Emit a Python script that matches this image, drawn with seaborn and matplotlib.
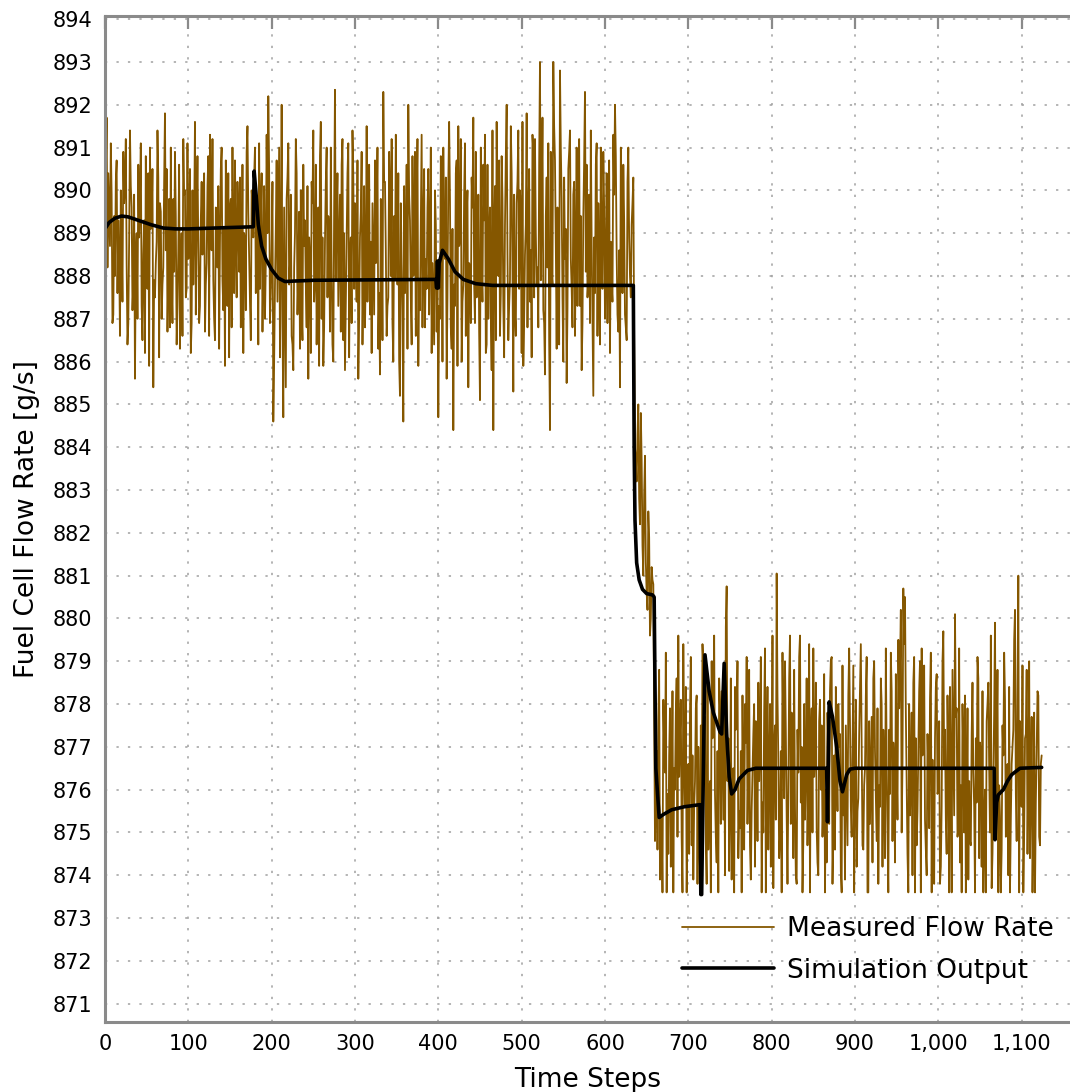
import numpy as np
import pandas as pd
import matplotlib
matplotlib.use('Agg')
import matplotlib.pyplot as plt
import seaborn as sns
from matplotlib.ticker import FuncFormatter, MultipleLocator

# Measured flow rate: even time steps (0, 2, 4, ...)
meas_even_before = [
    889.2, 891.7, 890.4, 888.7, 889.9, 887.1, 888.0, 890.7, 889.3, 886.6, 888.9, 890.9, 890.1, 888.3, 886.9, 891.4, 889.6, 887.8, 885.6, 889.0,
    890.6, 889.8, 887.3, 888.5, 886.2, 887.9, 890.4, 891.0, 889.2, 885.4, 887.5, 888.8, 890.3, 889.7, 887.0, 888.2, 891.8, 890.5, 888.1, 886.8,
    887.9, 889.8, 890.9, 886.4, 888.6, 886.3, 889.0, 891.2, 890.0, 887.7, 888.4, 890.5, 886.9, 887.8, 891.6, 889.4, 888.7, 887.3, 890.2, 889.1,
    886.7, 888.3, 890.8, 891.3, 888.6, 887.9, 886.5, 889.4, 890.1, 888.8, 891.0, 887.2, 885.9, 888.5, 890.4, 889.6, 886.8, 888.0, 890.7, 887.5,
    889.3, 890.3, 887.9, 886.2, 888.8, 890.9, 889.5, 887.4, 890.0, 888.9, 891.0, 889.6, 886.4, 887.7, 890.4, 888.2, 887.0, 891.3, 892.2, 886.9,
    888.6, 884.6, 887.8, 890.7, 889.2, 886.1, 892.0, 884.7, 887.5, 889.8, 891.1, 888.3, 886.6, 885.8, 889.0, 890.4, 888.0, 886.3, 887.2, 890.6,
    889.3, 886.8, 885.6, 888.4, 890.2, 891.4, 887.9, 886.4, 889.6, 890.8, 887.0, 885.9, 888.8, 891.0, 889.4, 886.7, 888.1, 886.0, 892.35, 889.5,
    887.3, 889.9, 890.6, 886.5, 885.8, 888.7, 891.1, 888.5, 886.9, 890.3, 889.7, 887.4, 885.6, 888.9, 890.9, 888.0, 886.8, 891.5, 889.3, 887.1,
    886.2, 888.4, 890.7, 889.5, 886.3, 885.7, 888.8, 892.3, 890.2, 886.6, 887.5, 889.9, 891.2, 886.0, 887.9, 889.0, 890.4, 885.2, 888.3, 884.6,
    887.6, 890.6, 892.0, 889.3, 886.4, 888.0, 890.9, 889.7, 885.9, 887.2, 891.3, 889.1, 886.8, 887.7, 890.5, 888.9, 886.2, 887.4, 890.0, 886.7,
    884.7, 887.0, 889.5, 891.0, 888.4, 885.6, 890.2, 889.8, 886.3, 884.4, 887.3, 890.7, 891.5, 888.9, 886.0, 887.8, 891.1, 889.4, 885.4, 888.1,
    890.3, 891.7, 886.9, 887.5, 889.9, 885.1, 888.2, 890.6, 891.3, 886.4, 887.0, 889.6, 885.8, 884.4, 890.1, 891.6, 888.0, 886.6, 890.8, 887.3,
    889.2, 892.0, 886.5, 887.9, 890.4, 885.3, 887.1, 889.7, 891.4, 890.0, 886.2, 885.9, 888.5, 891.8, 889.3, 887.4, 886.1, 890.9, 891.2, 887.8,
    886.8, 893.0, 889.6, 887.2, 885.7, 890.3, 891.1, 884.4, 888.1, 893.0, 890.7, 886.3, 887.5, 892.8, 889.8, 886.0, 888.4, 885.5, 890.5, 891.4,
    887.7, 889.9, 886.6, 891.0, 890.2, 887.3, 885.8, 889.4, 892.3, 890.6, 887.9, 886.9, 888.8, 885.2, 887.6, 891.1, 889.7, 886.4, 888.2, 890.9,
    887.0, 890.4, 889.5, 886.2, 887.8, 891.3, 892.0, 888.5, 886.7, 885.4, 889.8, 890.6, 887.1, 886.5, 891.0, 888.0, 889.2, 890.3,
]
meas_even_transition = [884.0, 883.2, 885.0, 882.2, 883.7, 881.0, 883.8, 880.6, 882.5, 879.6, 881.2, 880.8]
meas_even_after = [
    874.8, 876.9, 877.6, 873.9, 875.2, 878.1, 876.4, 873.6, 874.5, 877.9, 875.8, 873.6, 876.0, 878.6, 879.6, 877.3, 874.9, 879.4, 875.6, 873.6,
    876.6, 877.8, 874.7, 873.9, 876.2, 878.2, 877.0, 874.1, 875.4, 878.9, 877.7, 873.8, 874.6, 876.2, 879.0, 877.4, 875.9, 874.3, 873.6, 877.9,
    878.3, 875.3, 874.0, 880.75, 877.2, 875.7, 873.9, 876.5, 878.4, 877.6, 874.4, 875.1, 873.6, 876.1, 878.0, 879.1, 876.7, 874.7, 875.5, 877.3,
    874.2, 876.9, 878.5, 877.1, 873.6, 875.0, 879.3, 876.3, 874.6, 878.0, 875.8, 873.7, 877.5, 881.05, 876.7, 874.9, 873.6, 877.2, 879.0, 875.4,
    876.0, 879.6, 877.8, 874.4, 875.6, 873.8, 876.4, 879.6, 877.0, 874.8, 875.3, 878.6, 876.2, 873.6, 877.9, 879.3, 876.8, 875.1, 874.0, 878.1,
    877.5, 875.7, 873.6, 874.3, 876.9, 878.3, 879.1, 875.0, 874.6, 876.6, 878.0, 877.3, 873.6, 875.4, 873.9, 876.1, 878.2, 877.6, 874.9, 878.9,
    876.3, 874.2, 875.8, 878.4, 877.0, 874.6, 876.5, 879.1, 873.6, 875.2, 877.7, 878.6, 876.9, 874.8, 873.8, 875.6, 878.0, 877.4, 874.4, 876.7,
    873.6, 875.9, 878.3, 877.1, 874.3, 876.6, 879.5, 878.8, 875.0, 880.7, 880.5, 876.2, 873.6, 875.4, 877.8, 878.5, 873.6, 874.7, 876.9, 879.0,
    879.3, 877.6, 875.3, 874.0, 876.4, 878.1, 873.6, 875.0, 877.2, 878.7, 876.0, 873.8, 875.6, 879.7, 877.4, 874.5, 876.8, 878.4, 873.6, 877.0,
    880.1, 877.9, 875.1, 874.3, 873.6, 876.7, 878.2, 875.5, 873.9, 874.8, 877.3, 876.4, 873.6, 875.7, 878.6, 877.1, 874.2, 873.6, 876.0, 877.6,
    878.5, 875.0, 873.7, 876.3, 879.9, 877.0, 873.6, 875.4, 874.6, 876.8, 878.1, 875.2, 874.0, 873.6, 876.6, 877.4, 880.2, 874.8, 881.0, 877.6,
    875.6, 873.6, 877.2, 878.8, 876.5, 874.4, 877.7, 875.1, 873.6, 876.9, 878.2, 874.7, 876.8,
]

# Measured flow rate: odd time steps (1, 3, 5, ...)
meas_odd_before = [
    890.3, 888.2, 889.5, 891.1, 886.9, 889.4, 890.2, 887.6, 888.5, 890.0, 887.4, 889.7, 891.2, 886.4, 888.8, 890.1, 887.2, 889.9, 888.4, 887.0,
    888.9, 891.1, 886.5, 889.3, 890.8, 887.7, 885.9, 889.1, 890.5, 887.9, 888.3, 891.4, 886.1, 889.5, 887.8, 890.2, 888.6, 886.7, 889.8, 891.0,
    886.9, 888.1, 889.4, 887.3, 890.6, 888.0, 886.6, 889.9, 887.5, 891.1, 888.7, 886.2, 890.0, 889.2, 887.1, 890.8, 886.9, 889.3, 888.5, 890.4,
    887.8, 890.1, 886.6, 888.9, 891.2, 887.0, 889.6, 888.2, 886.3, 890.5, 887.9, 889.1, 890.7, 887.3, 886.1, 889.8, 891.0, 887.6, 888.8, 890.2,
    888.1, 886.8, 890.6, 889.0, 887.2, 891.5, 888.4, 886.5, 889.7, 890.3, 887.6, 888.9, 891.1, 889.4, 886.7, 890.1, 888.3, 889.0, 890.5, 887.6,
    890.2, 886.0, 889.1, 887.4, 891.0, 888.5, 886.9, 889.6, 885.4, 890.3, 887.8, 889.9, 886.4, 888.2, 891.2, 887.1, 889.5, 890.0, 886.5, 888.7,
    887.8, 890.1, 888.9, 886.2, 889.7, 887.4, 890.6, 888.3, 885.9, 891.6, 888.9, 886.8, 890.2, 887.5, 889.1, 891.0, 886.4, 889.6, 887.9, 890.4,
    888.6, 886.7, 891.2, 889.0, 887.3, 890.4, 886.1, 888.9, 891.4, 887.7, 888.3, 890.7, 887.0, 889.5, 886.4, 890.1, 888.1, 887.4, 890.6, 888.8,
    889.7, 887.1, 888.3, 891.0, 887.6, 889.8, 886.5, 890.2, 888.6, 887.3, 890.9, 888.0, 886.9, 889.4, 891.3, 887.8, 886.0, 889.7, 887.2, 890.1,
    888.8, 886.3, 889.9, 887.5, 890.8, 888.1, 886.6, 891.2, 887.9, 889.3, 886.8, 890.5, 888.4, 889.6, 887.1, 891.0, 888.3, 886.4, 889.2, 888.0,
    887.3, 890.8, 886.0, 888.6, 890.3, 887.5, 891.6, 886.8, 889.1, 887.8, 890.4, 885.9, 888.7, 891.2, 887.4, 889.9, 886.6, 890.0, 888.3, 886.9,
    889.6, 887.8, 890.9, 888.2, 886.7, 891.0, 887.4, 889.3, 886.2, 890.6, 888.9, 887.1, 891.4, 889.0, 886.5, 888.4, 890.7, 887.6, 889.8, 886.1,
    890.8, 888.5, 887.3, 891.5, 888.1, 889.9, 886.6, 890.2, 887.7, 889.4, 891.6, 887.0, 889.2, 886.8, 890.5, 888.6, 891.3, 887.5, 889.0, 888.2,
    890.6, 887.9, 891.7, 886.9, 889.4, 888.2, 886.5, 890.9, 887.8, 891.5, 888.7, 889.6, 886.4, 891.0, 887.5, 890.3, 889.1, 887.2, 890.9, 888.4,
    886.8, 890.2, 888.6, 887.3, 891.2, 889.4, 886.9, 890.7, 888.1, 887.5, 889.9, 891.4, 887.0, 888.9, 890.6, 886.6, 888.3, 891.0, 887.7, 889.6,
    888.3, 886.9, 890.7, 888.8, 887.4, 889.9, 890.8, 887.1, 888.6, 891.0, 887.6, 889.3, 886.8, 890.2, 888.9, 887.5, 889.7,
]
meas_odd_transition = [886.5, 883.7, 884.3, 882.8, 884.8, 881.7, 882.9, 881.3, 880.2, 881.9, 880.0, 880.9, 877.8]
meas_odd_after = [
    876.1, 874.6, 878.8, 875.4, 873.6, 877.0, 879.2, 875.9, 876.8, 874.2, 878.3, 876.5, 877.8, 874.9, 876.3, 878.1, 873.6, 876.7, 878.4, 875.3,
    874.5, 879.1, 876.8, 875.6, 877.9, 873.8, 875.1, 877.5, 879.4, 876.3, 874.8, 878.7, 875.9, 873.6, 877.2, 879.6, 874.9, 876.9, 878.6, 875.2,
    876.7, 877.9, 879.8, 876.2, 874.1, 878.6, 875.8, 873.6, 877.4, 879.0, 875.5, 876.9, 878.2, 874.6, 877.1, 875.2, 878.8, 873.9, 876.4, 878.0,
    877.6, 874.8, 876.2, 879.1, 875.7, 877.8, 873.6, 878.4, 876.6, 874.2, 879.6, 877.0, 875.3, 878.2, 874.4, 876.9, 879.2, 875.8, 877.4, 873.8,
    878.6, 875.2, 876.9, 878.8, 874.0, 877.4, 879.1, 875.7, 873.6, 878.0, 876.6, 874.7, 879.4, 877.2, 875.0, 876.3, 878.5, 874.3, 877.6, 876.0,
    874.9, 878.7, 876.0, 877.8, 875.2, 879.0, 873.8, 876.8, 878.4, 875.5, 877.0, 874.1, 878.9, 876.2, 877.5, 874.7, 879.3, 875.6, 876.8, 873.6,
    878.1, 875.5, 877.3, 879.4, 874.7, 876.1, 878.2, 873.6, 877.6, 876.4, 874.3, 879.0, 875.8, 877.9, 876.1, 878.6, 874.2, 876.3, 879.3, 875.0,
    877.4, 879.2, 874.8, 876.5, 878.7, 875.3, 877.9, 880.2, 876.6, 879.4, 877.8, 874.5, 878.0, 876.3, 874.0, 879.1, 877.2, 875.5, 878.3, 873.6,
    876.8, 878.9, 874.6, 877.3, 875.1, 879.2, 876.7, 873.8, 878.4, 875.9, 877.6, 874.2, 879.0, 876.5, 875.3, 878.2, 873.6, 876.4, 878.8, 875.4,
    877.7, 874.9, 879.3, 876.1, 878.0, 875.0, 873.6, 877.9, 876.2, 874.7, 878.5, 875.6, 877.2, 879.1, 874.4, 876.8, 878.3, 875.1, 873.6, 878.0,
    876.5, 879.6, 874.5, 877.8, 875.8, 878.8, 876.1, 873.6, 877.5, 879.2, 874.9, 876.6, 878.4, 875.3, 877.0, 879.5, 875.9, 878.2, 873.6, 876.4,
    878.9, 875.0, 877.3, 874.5, 879.0, 876.2, 873.6, 877.8, 875.7, 878.3, 874.9, 876.6,
]

# Simulation output, knots
sim_steps = [0, 5, 12, 20, 28, 40, 55, 70, 85, 100, 178, 179, 181, 184, 188, 193, 200, 208, 216, 225, 250,
             397, 398, 399, 400, 401, 405, 412, 420, 430, 445, 465, 500, 634,
             635, 636, 638, 641, 645, 650, 657, 659, 661, 665, 670, 680, 695, 714,
             715, 716, 720, 725, 730, 738, 740, 743, 746, 749, 752, 756, 761, 771, 781,
             865, 866, 867, 869, 873, 878, 882, 885, 890, 894, 900,
             1067, 1068, 1070, 1072, 1078, 1083, 1088, 1098, 1124]
sim_values = [889.1, 889.25, 889.35, 889.4, 889.38, 889.3, 889.2, 889.12, 889.1, 889.1, 889.15, 890.45, 890.0, 889.2, 888.7, 888.4, 888.15, 887.95, 887.87, 887.88, 887.9,
              887.92, 887.72, 888.35, 887.72, 888.3, 888.6, 888.4, 888.1, 887.92, 887.82, 887.78, 887.78, 887.78,
              884.0, 882.3, 881.3, 880.9, 880.68, 880.58, 880.55, 880.5, 876.5, 875.35, 875.42, 875.53, 875.6, 875.65,
              873.55, 873.55, 879.15, 878.3, 877.8, 877.35, 877.3, 878.95, 877.3, 876.3, 875.9, 876.0, 876.25, 876.45, 876.5,
              876.5, 876.5, 875.25, 878.05, 877.7, 877.0, 876.2, 875.95, 876.35, 876.48, 876.5,
              876.5, 874.83, 875.7, 875.88, 876.0, 876.2, 876.35, 876.5, 876.52]

meas_even = meas_even_before + meas_even_transition + meas_even_after
meas_odd = meas_odd_before + meas_odd_transition + meas_odd_after
meas_df = pd.DataFrame({
    'Time Steps': list(range(0, 2 * len(meas_even), 2)) + list(range(1, 2 * len(meas_odd), 2)),
    'Flow': meas_even + meas_odd,
}).sort_values('Time Steps')
sim_df = pd.DataFrame({'Time Steps': sim_steps, 'Flow': sim_values})

sns.set_theme(style='white')
plt.rcParams['font.family'] = ['DejaVu Sans']
plt.rcParams['text.color'] = 'black'
plt.rcParams['axes.labelcolor'] = 'black'

fig = plt.figure(figsize=(10.7, 10.92), dpi=100)
ax = fig.add_axes([0.0981, 0.0644, 0.9019, 0.9212])

grey = '#8a8a8a'
sns.lineplot(data=meas_df, x='Time Steps', y='Flow', ax=ax, color='#855700',
             linewidth=1.3, estimator=None, sort=False, label='Measured Flow Rate')
sns.lineplot(data=sim_df, x='Time Steps', y='Flow', ax=ax, color='black',
             linewidth=2.6, estimator=None, sort=False, label='Simulation Output')

ax.set_xlim(0, 1158)
ax.set_ylim(870.58, 894.08)
ax.xaxis.set_major_locator(MultipleLocator(100))
ax.yaxis.set_major_locator(MultipleLocator(1))
ax.xaxis.set_major_formatter(FuncFormatter(lambda v, p: f'{int(round(v)):,}'))
ax.yaxis.set_major_formatter(FuncFormatter(lambda v, p: f'{int(round(v))}'))

ax.grid(True, color='#a0a0a0', linestyle=(0, (1.5, 6)), linewidth=1.1)
for side in ['left', 'bottom', 'top']:
    ax.spines[side].set_color(grey)
    ax.spines[side].set_linewidth(2.2)
ax.spines['right'].set_visible(False)

ax.tick_params(axis='both', direction='in', length=9, width=1.6, color=grey,
               labelsize=15, labelcolor='black', top=True, right=False, pad=9)

ax.set_xlabel('Time Steps', fontsize=19, labelpad=9)
ax.set_ylabel('Fuel Cell Flow Rate [g/s]', fontsize=19, labelpad=9)

leg = ax.legend(loc='lower right', bbox_to_anchor=(1.0, 0.022), frameon=False,
                fontsize=19, handlelength=3.5, handletextpad=0.5, labelspacing=0.6,
                borderaxespad=0.2)

fig.savefig('out.png', dpi=100)
